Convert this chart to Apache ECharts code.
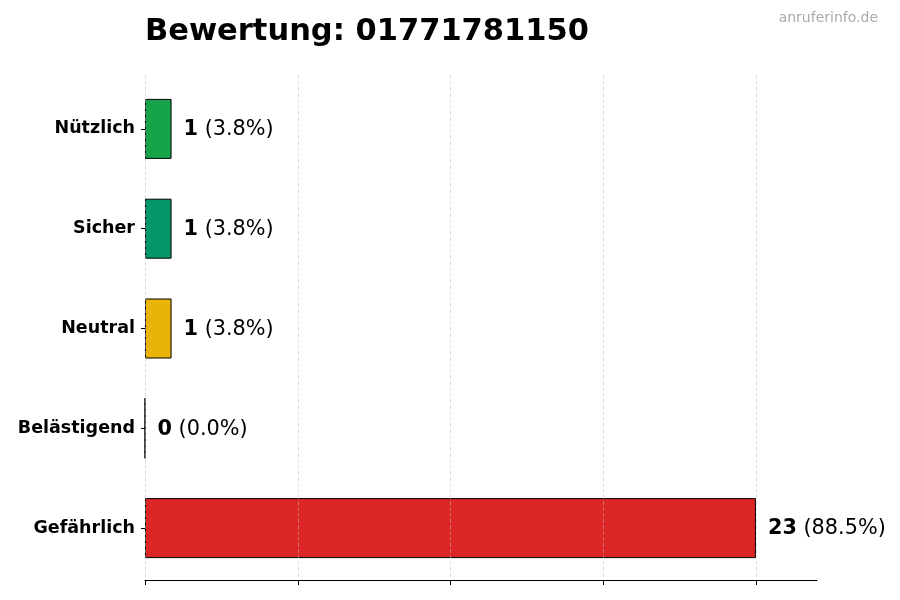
<!DOCTYPE html>
<html>
<head>
<meta charset="utf-8">
<script src="https://cdn.jsdelivr.net/npm/echarts@6/dist/echarts.min.js"></script>
<style>html,body{margin:0;padding:0;background:#fff}#c{width:900px;height:600px}</style>
</head>
<body>
<div id="c"></div>
<script>
const categories = ['Nützlich', 'Sicher', 'Neutral', 'Belästigend', 'Gefährlich'];
const counts = [1, 1, 1, 0, 23];
const barColors = ['#16a34a', '#059669', '#eab308', '#9ca3af', '#dc2626'];
const titleText = 'Bewertung: 01771781150';
const watermark = 'anruferinfo.de';
const tickStep = 5.75;
const tickMax = 23;
const axisMax = 25.3;

const total = counts.reduce((a, b) => a + b, 0);
const FONT = 'DejaVu Sans';

const chart = echarts.init(document.getElementById('c'), null, {renderer: 'canvas'});
chart.setOption({
  animation: false,
  backgroundColor: '#ffffff',
  title: [{
    text: titleText,
    left: 140, top: 12,
    textStyle: {fontFamily: FONT, fontWeight: 'bold', fontSize: 30.5, color: '#000'}
  }, {
    text: watermark,
    right: 17, top: 6,
    textStyle: {fontFamily: FONT, fontWeight: 'normal', fontSize: 14, color: '#aaaaaa'}
  }],
  grid: [
    {left: 145, right: 83, top: 79, bottom: 22},
    {left: 145, right: 144, top: 75, bottom: 20}
  ],
  xAxis: [{
    gridIndex: 0, type: 'value', min: 0, max: axisMax, offset: 2,
    axisLine: {show: true, lineStyle: {color: '#000', width: 1}},
    axisTick: {show: false}, axisLabel: {show: false}, splitLine: {show: false}
  }, {
    gridIndex: 1, type: 'value', min: 0, max: tickMax, interval: tickStep, z: 10,
    axisLine: {show: false},
    axisTick: {show: true, length: 5, lineStyle: {color: '#000', width: 1}},
    axisLabel: {show: false},
    splitLine: {show: true, lineStyle: {color: 'rgba(190,190,190,0.6)', width: 0.8, type: [4, 2]}}
  }],
  yAxis: [{
    gridIndex: 0, type: 'category', data: categories, inverse: true,
    axisLine: {show: false},
    axisTick: {show: true, alignWithLabel: true, length: 4, lineStyle: {color: '#000', width: 1}},
    axisLabel: {margin: 10, padding: [2, 0, 0, 0], fontFamily: FONT, fontWeight: 'bold', fontSize: 17.5, color: '#000'},
    splitLine: {show: false}
  }, {
    gridIndex: 1, type: 'value', show: false, min: 0, max: 1
  }],
  series: [{
    type: 'bar',
    xAxisIndex: 0, yAxisIndex: 0,
    barWidth: 60,
    data: counts.map((v, i) => ({
      value: v,
      itemStyle: {color: barColors[i], borderColor: '#000', borderWidth: 1}
    })),
    label: {
      show: true, position: 'right', distance: 12, offset: [0, 1],
      formatter: p => '{b|' + p.value + '}{n| (' + (p.value / total * 100).toFixed(1) + '%)}',
      rich: {
        b: {fontFamily: FONT, fontWeight: 'bold', fontSize: 20.8, color: '#000'},
        n: {fontFamily: FONT, fontWeight: 'normal', fontSize: 20.8, color: '#000'}
      }
    }
  }]
});
</script>
</body>
</html>
